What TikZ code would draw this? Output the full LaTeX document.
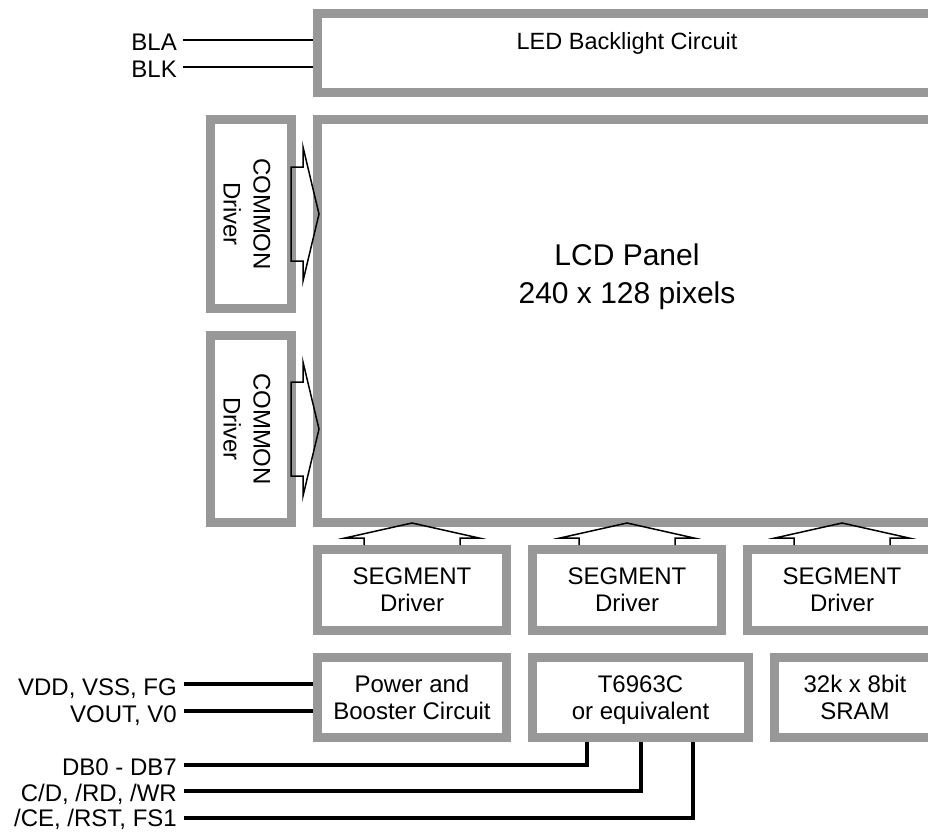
\documentclass[tikz,border=0pt]{standalone}
\usepackage{fontspec}
\setmainfont{Liberation Sans}
\definecolor{boxgray}{RGB}{152,152,152}
\tikzset{
  gbox/.style={draw=boxgray, line width=9pt, rectangle, inner sep=0pt, align=center,
               font=\fontsize{24}{27}\selectfont},
  lbl/.style={anchor=base east, inner sep=0pt, font=\fontsize{24}{27}\selectfont},
  btxt/.style={align=center, inner sep=0pt, font=\fontsize{24}{27}\selectfont},
  thinwire/.style={line width=1.8pt},
  buswire/.style={line width=4pt},
  harrow/.style={line width=1.5pt, line join=miter},
}
\begin{document}
\begin{tikzpicture}[x=1pt,y=-1pt]
\useasboundingbox (0,0) rectangle (928,832);
\clip (0,0) rectangle (928,832);

% boxes
\node[gbox, minimum width=678pt, minimum height=79pt] (led) at (656.5,53) {};
\node[gbox, minimum width=678pt, minimum height=403pt] (lcd) at (656.5,321) {};
\node[gbox, minimum width=81pt, minimum height=189pt] (com1) at (251,214) {};
\node[gbox, minimum width=81pt, minimum height=187pt] (com2) at (251,429) {};
\node[gbox, minimum width=189pt, minimum height=81pt] (seg1) at (412,590) {SEGMENT\\Driver};
\node[gbox, minimum width=189pt, minimum height=81pt] (seg2) at (627,590) {SEGMENT\\Driver};
\node[gbox, minimum width=189pt, minimum height=81pt] (seg3) at (842,590) {SEGMENT\\Driver};
\node[gbox, minimum width=189pt, minimum height=80pt] (pwr) at (412,697.5) {Power and\\Booster Circuit};
\node[gbox, minimum width=216pt, minimum height=80pt, text depth=0pt] (ctrl) at (640.5,697.5) {T6963C\\or equivalent};
\node[gbox, minimum width=161pt, minimum height=80pt] (sram) at (855,697.5) {32k x 8bit\\SRAM};

% texts
\node[btxt, anchor=base, font=\fontsize{23.5}{27}\selectfont] (ledt) at (627,50) {LED Backlight Circuit};
\node[btxt, font=\fontsize{30}{38}\selectfont] (lcdt) at (627,277) {LCD Panel\\240 x 128 pixels};
\node[btxt, rotate=-90, font=\fontsize{24}{30}\selectfont] (com1t) at (247,214) {COMMON\\Driver};
\node[btxt, rotate=-90, font=\fontsize{24}{30}\selectfont] (com2t) at (247,429) {COMMON\\Driver};

% hollow arrows from COMMON drivers
\foreach \c in {214,429}{
  \draw[harrow] (291,{\c-47}) -- (303,{\c-47}) -- (303,{\c-67}) -- (319,\c)
     -- (303,{\c+67}) -- (303,{\c+47}) -- (291,{\c+47}) -- cycle;
}
% hollow arrows from SEGMENT drivers
\foreach \c in {412,627,842}{
  \draw[harrow] ({\c-48},545) -- ({\c-48},538) -- ({\c-67},538) -- (\c,523)
     -- ({\c+67},538) -- ({\c+48},538) -- ({\c+48},545);
}

% labels
\node[lbl] (bla) at (177,51) {BLA};
\node[lbl] (blk) at (177,78) {BLK};
\node[lbl] (vdd) at (177,695) {VDD, VSS, FG};
\node[lbl] (vout) at (177,722) {VOUT, V0};
\node[lbl] (db) at (177,775) {DB0 - DB7};
\node[lbl] (cd) at (177,801) {C/D, /RD, /WR};
\node[lbl] (ce) at (177,826) {/CE, /RST, FS1};

% wire start points
\coordinate (blaS) at (183,40);
\coordinate (blkS) at (183,67);
\coordinate (vddS) at (184,684);
\coordinate (voutS) at (184,711);
\coordinate (dbS) at (184,765);
\coordinate (cdS) at (184,791);
\coordinate (ceS) at (184,818);

% wires
\draw[thinwire] (blaS) -- (blaS -| led.west);
\draw[thinwire] (blkS) -- (blkS -| led.west);
\draw[buswire] (vddS) -- (vddS -| pwr.west);
\draw[buswire] (voutS) -- (voutS -| pwr.west);
\draw[buswire] (dbS) -| ([xshift=-53.5pt]ctrl.south);
\draw[buswire] (cdS) -| (ctrl.south);
\draw[buswire] (ceS) -| ([xshift=52.5pt]ctrl.south);
\end{tikzpicture}
\end{document}
